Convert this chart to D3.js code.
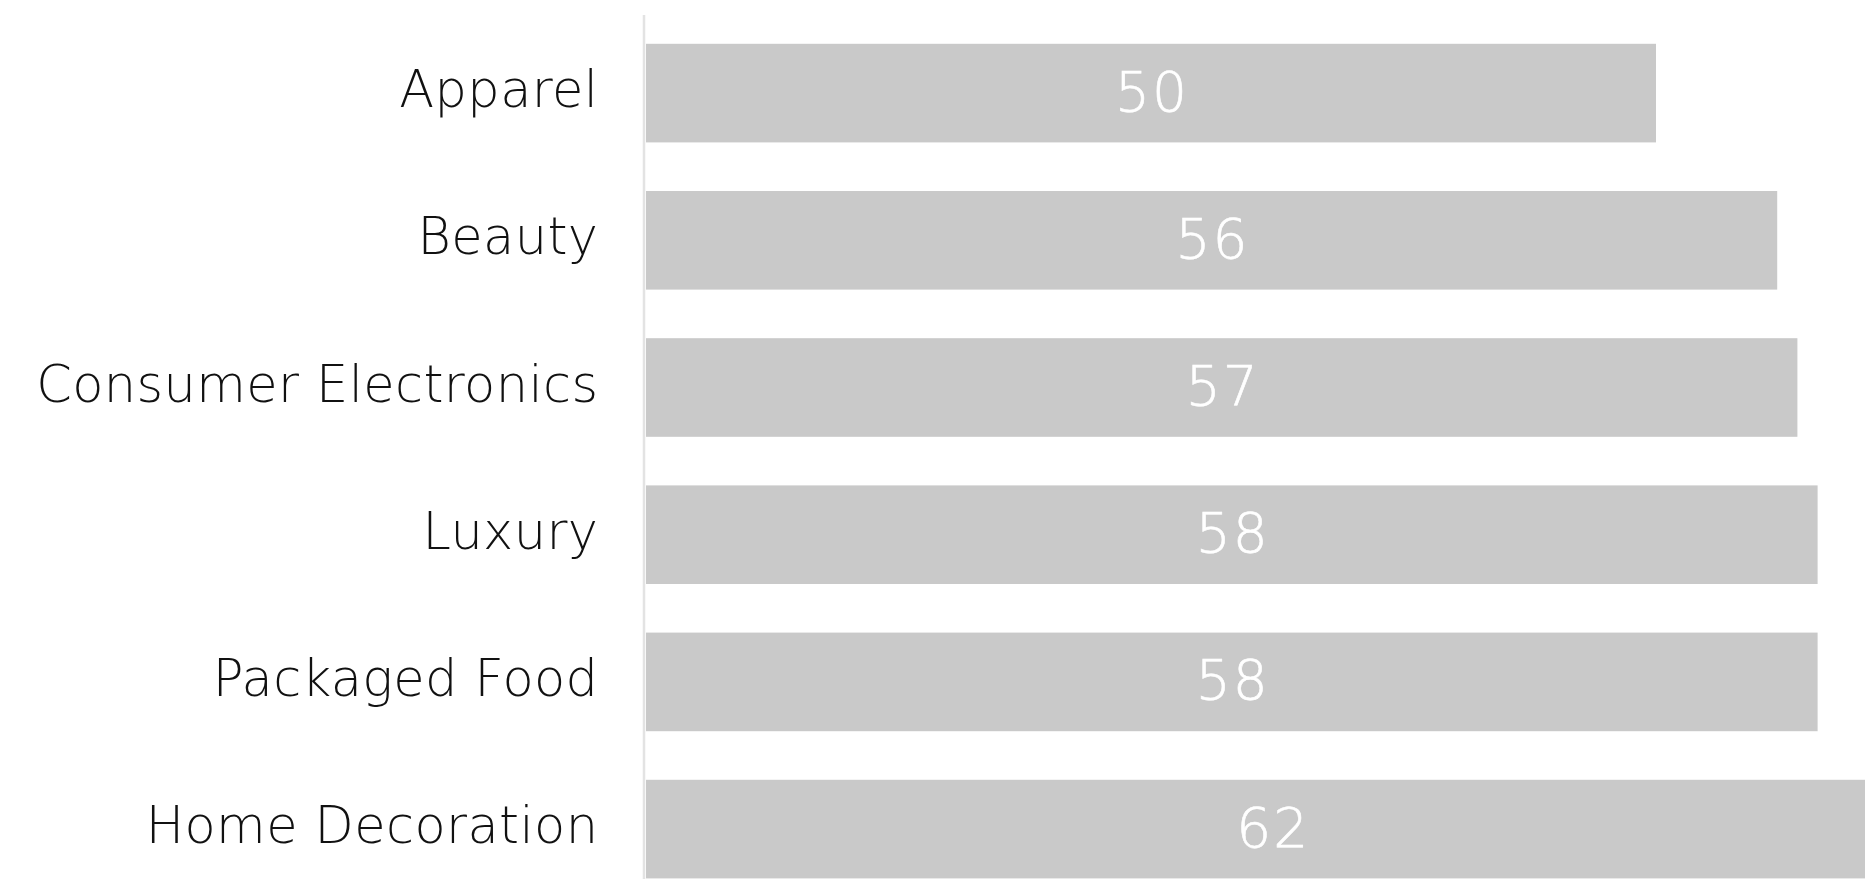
<!DOCTYPE html>
<html>
<head>
<meta charset="utf-8">
<script src="https://cdn.jsdelivr.net/npm/d3@7"></script>
<style>
  html, body { margin: 0; padding: 0; background: #ffffff; overflow: hidden; }
  svg { display: block; }
  .cat-label { font-family: "DejaVu Sans", Lato, sans-serif; font-weight: 200; fill: #111111; }
  .val-label { font-family: "DejaVu Sans", Lato, sans-serif; font-weight: 200; fill: #ffffff;
               stroke: #ffffff; stroke-width: 0.6px; }
</style>
</head>
<body>
<svg id="chart"></svg>
<script>
// Category names, top to bottom
const categories = ["Apparel", "Beauty", "Consumer Electronics", "Luxury", "Packaged Food", "Home Decoration"];
// Value for each category
const values = [50, 56, 57, 58, 58, 62];

const width = 1865, height = 879;
const axisX = 644;          // vertical baseline
const barLeft = 646;        // bars start just right of the baseline
const pxPerUnit = 20.2;
const catSpacing = 0.4;     // letter spacing of category labels
const valSpacing = 2;       // letter spacing of value labels

const svg = d3.select("#chart").attr("width", width).attr("height", height);

const x = d3.scaleLinear()
  .domain([0, 62])
  .range([barLeft, barLeft + 62 * pxPerUnit]);

const step = 147.2;
const y = d3.scaleBand()
  .domain(categories)
  .range([19.5, 19.5 + step * 6])
  .paddingInner(0.33)
  .paddingOuter(0.165);

const data = categories.map((c, i) => ({ category: c, value: values[i] }));

// Bars
svg.append("g")
  .selectAll("rect")
  .data(data)
  .join("rect")
  .attr("x", x(0))
  .attr("y", d => y(d.category))
  .attr("width", d => x(d.value) - x(0))
  .attr("height", y.bandwidth())
  .attr("fill", "#c9c9c9");

// Baseline
svg.append("line")
  .attr("x1", axisX).attr("x2", axisX)
  .attr("y1", 15).attr("y2", height)
  .attr("stroke", "#e3e3e3")
  .attr("stroke-width", 2.5);

// Category labels, right aligned next to the baseline
svg.append("g")
  .selectAll("text")
  .data(data)
  .join("text")
  .attr("class", "cat-label")
  .attr("x", 598 + catSpacing)
  .attr("y", d => y(d.category) + y.bandwidth() / 2 + 14)
  .attr("text-anchor", "end")
  .style("font-size", "51px")
  .style("letter-spacing", catSpacing + "px")
  .text(d => d.category);

// Value labels, centred in each bar
svg.append("g")
  .selectAll("text")
  .data(data)
  .join("text")
  .attr("class", "val-label")
  .attr("x", d => (x(0) + x(d.value)) / 2 + valSpacing / 2)
  .attr("y", d => y(d.category) + y.bandwidth() / 2 + 17.5)
  .attr("text-anchor", "middle")
  .style("font-size", "55px")
  .style("letter-spacing", valSpacing + "px")
  .text(d => d.value);
</script>
</body>
</html>
